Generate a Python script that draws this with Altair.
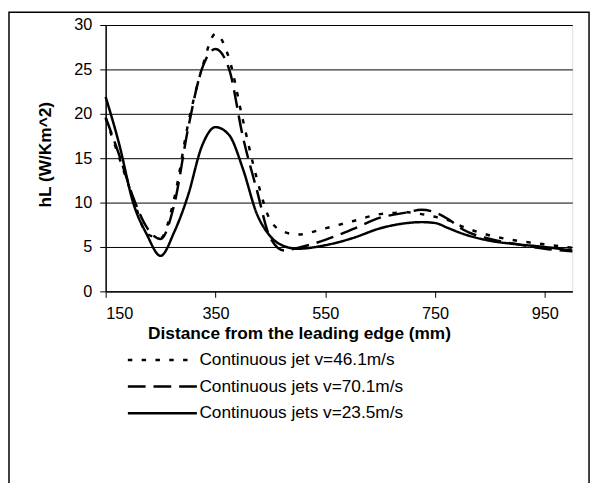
import altair as alt
import pandas as pd

# distance from leading edge (mm)
x_mm = [150, 175, 200, 225, 250, 275, 300, 325, 350, 375, 400, 425, 450, 475,
        500, 550, 600, 650, 700, 725, 750, 775, 800, 850, 900, 950, 1000]

series_names = ["Continuous jet v=46.1m/s",
                "Continuous jets v=70.1m/s",
                "Continuous jets v=23.5m/s"]

v46 = [19.5, 15.0, 10.5, 6.5, 6.0, 10.5, 18.8, 25.0, 29.0, 26.2, 19.3, 12.8, 8.0, 6.7,
       6.4, 7.1, 7.9, 8.7, 8.9, 8.7, 8.4, 8.0, 7.3, 6.3, 5.7, 5.3, 4.9]
v70 = [19.6, 15.3, 10.6, 7.2, 5.9, 9.8, 18.3, 25.0, 27.3, 25.0, 17.4, 11.5, 6.0, 4.6,
       4.9, 5.8, 7.0, 8.3, 8.9, 9.2, 8.9, 8.1, 7.0, 5.9, 5.3, 4.8, 4.5]
v23 = [21.9, 16.5, 10.0, 6.4, 4.0, 6.7, 10.8, 16.3, 18.5, 17.6, 13.8, 8.8, 6.2, 5.1,
       4.8, 5.2, 6.0, 7.1, 7.7, 7.8, 7.7, 7.1, 6.5, 5.7, 5.3, 5.0, 4.6]

x_ticks = [150, 350, 550, 750, 950]
y_ticks = [0, 5, 10, 15, 20, 25, 30]
dash_styles = [[4.5, 9.5], [18, 8], [1, 0]]

rows = []
for name, vals in zip(series_names, [v46, v70, v23]):
    for xv, yv in zip(x_mm, vals):
        rows.append({"x": xv, "hL": yv, "series": name})
df = pd.DataFrame(rows)

FONT = "Liberation Sans"
W, H = 473, 270

border = alt.Chart(alt.Data(values=[{"k": 1}])).mark_rect(
    fillOpacity=0, stroke="black", strokeWidth=1.5
).encode(
    x=alt.value(-98), x2=alt.value(490), y=alt.value(-13), y2=alt.value(470)
)

lines = alt.Chart(df).mark_line(
    interpolate="monotone", strokeWidth=2.5, color="black"
).encode(
    x=alt.X("x:Q",
            scale=alt.Scale(domain=[150, 1000], nice=False, zero=False),
            axis=alt.Axis(values=x_ticks, grid=False, title="Distance from the leading edge (mm)",
                          labelFontSize=16.5, titleFontSize=17.5, labelFont=FONT, titleFont=FONT,
                          titleFontWeight="bold", labelColor="black", titleColor="black",
                          domainColor="black", tickColor="black", tickSize=6, domainWidth=1.5,
                          labelPadding=9, titleX=196, titleY=48, titleAlign="center",
                          titleBaseline="alphabetic")),
    y=alt.Y("hL:Q",
            scale=alt.Scale(domain=[0, 30], nice=False),
            axis=alt.Axis(values=y_ticks, grid=True, gridColor="black", gridWidth=1,
                          title="hL (W/Km^2)",
                          labelFontSize=16.5, titleFontSize=17.5, labelFont=FONT, titleFont=FONT,
                          titleFontWeight="bold", labelColor="black", titleColor="black",
                          domainColor="black", tickColor="black", tickSize=6, domainWidth=1.5,
                          labelPadding=8, titleX=-61, titleY=131, titleAlign="center",
                          titleBaseline="middle")),
    strokeDash=alt.StrokeDash(
        "series:N",
        scale=alt.Scale(domain=series_names, range=dash_styles),
        legend=alt.Legend(title=None, orient="none", legendX=21, legendY=326,
                          symbolType="stroke", symbolSize=4900, symbolStrokeWidth=2.5,
                          symbolStrokeColor="black", labelFont=FONT, labelFontSize=17.5,
                          labelColor="black", labelOffset=1, rowPadding=0, padding=0,
                          clipHeight=27, labelLimit=400)),
    detail="series:N",
)

chart = alt.layer(border, lines).properties(
    width=W, height=H,
    padding={"left": 99, "top": 14, "right": 20, "bottom": 191},
    autosize=alt.AutoSizeParams(type="none"),
).configure_view(stroke="#808080", strokeWidth=2).configure(background="white")

chart.save("out.html", embed_options={"renderer": "svg", "actions": False})
